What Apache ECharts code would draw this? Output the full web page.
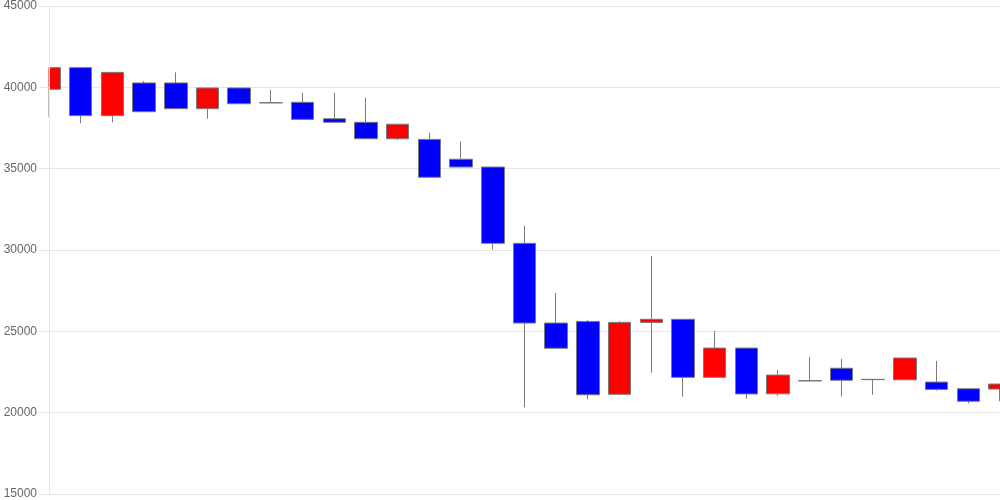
<!DOCTYPE html>
<html>
<head>
<meta charset="utf-8">
<script src="https://cdn.jsdelivr.net/npm/echarts@6/dist/echarts.min.js"></script>
<style>
  html, body { margin: 0; padding: 0; background: #fff; }
  #main { width: 1000px; height: 500px; }
</style>
</head>
<body>
<div id="main"></div>
<script>
  // one entry per session, 31 in total
  var days = ['1', '2', '3', '4', '5', '6', '7', '8', '9', '10', '11', '12', '13', '14', '15', '16',
    '17', '18', '19', '20', '21', '22', '23', '24', '25', '26', '27', '28', '29', '30', '31']
  var opens = [39880, 41210, 38260, 40270, 40270, 38690, 39960, 39040, 39080, 38070, 37850, 36840, 36800, 35580, 35100, 30410,
    25510, 25610, 21130, 25550, 25740, 22170, 23970, 21160, 21950, 22730, 22030, 22020, 21880, 21470, 21450]
  var closes = [41210, 38260, 40920, 38500, 38690, 39960, 38990, 39060, 38030, 37850, 36840, 37730, 34470, 35100, 30410, 25510,
    23960, 21100, 25550, 25740, 22170, 23970, 21150, 22310, 21970, 21990, 22050, 23360, 21430, 20700, 21760]
  var lows = [38190, 37790, 37850, 38500, 38690, 38070, 38990, 39040, 38030, 37850, 36840, 36760, 34470, 35100, 30040, 20330,
    23960, 20820, 21130, 22460, 20980, 22170, 20860, 21040, 21950, 21000, 21100, 22020, 21350, 20570, 20700]
  var highs = [41210, 41210, 40920, 40390, 40920, 39960, 39960, 39840, 39650, 39650, 39360, 37730, 37210, 36680, 35100, 31490,
    27360, 25700, 25630, 29630, 25740, 25020, 23970, 22620, 23420, 23300, 22050, 23360, 23180, 21470, 21760]
  var yTicks = [15000, 45000, 5000]

  var candles = days.map(function (d, i) {
    return [opens[i], closes[i], lows[i], highs[i]]
  })

  var gridLeft = 49

  var chart = echarts.init(document.getElementById('main'))
  chart.setOption({
    animation: false,
    textStyle: { fontFamily: 'Liberation Sans, Arial, sans-serif' },
    grid: { left: gridLeft, right: 0, top: 6, bottom: 6 },
    // white strip left of the plot so the first half-candle looks cut off
    graphic: [{
      type: 'rect',
      z: 3,
      shape: { x: 0, y: 0, width: gridLeft - 0.5, height: 500 },
      style: { fill: '#fff' }
    }],
    xAxis: {
      type: 'category',
      data: days,
      boundaryGap: false,
      axisLine: { show: false },
      axisTick: { show: false },
      axisLabel: { show: false },
      splitLine: { show: false }
    },
    yAxis: [{
      type: 'value',
      position: 'left',
      z: 4,
      min: yTicks[0],
      max: yTicks[1],
      interval: yTicks[2],
      axisLine: { show: true, lineStyle: { color: '#e6e6e6' } },
      axisTick: { show: true, length: 10, lineStyle: { color: '#e6e6e6' } },
      axisLabel: {
        color: '#666',
        fontSize: 12,
        margin: 12,
        formatter: function (v) { return String(v) }
      },
      splitLine: { show: false }
    }, {
      // only used for the horizontal grid lines behind the candles
      type: 'value',
      z: 0,
      min: yTicks[0],
      max: yTicks[1],
      interval: yTicks[2],
      axisLine: { show: false },
      axisTick: { show: false },
      axisLabel: { show: false },
      splitLine: { lineStyle: { color: '#e6e6e6' } }
    }],
    series: [{
      type: 'candlestick',
      yAxisIndex: 0,
      data: candles,
      barWidth: 23,
      itemStyle: {
        color: '#ff0000',
        color0: '#0000ff',
        borderColor: '#7a7a7a',
        borderColor0: '#7a7a7a',
        borderWidth: 1
      }
    }]
  })
</script>
</body>
</html>
